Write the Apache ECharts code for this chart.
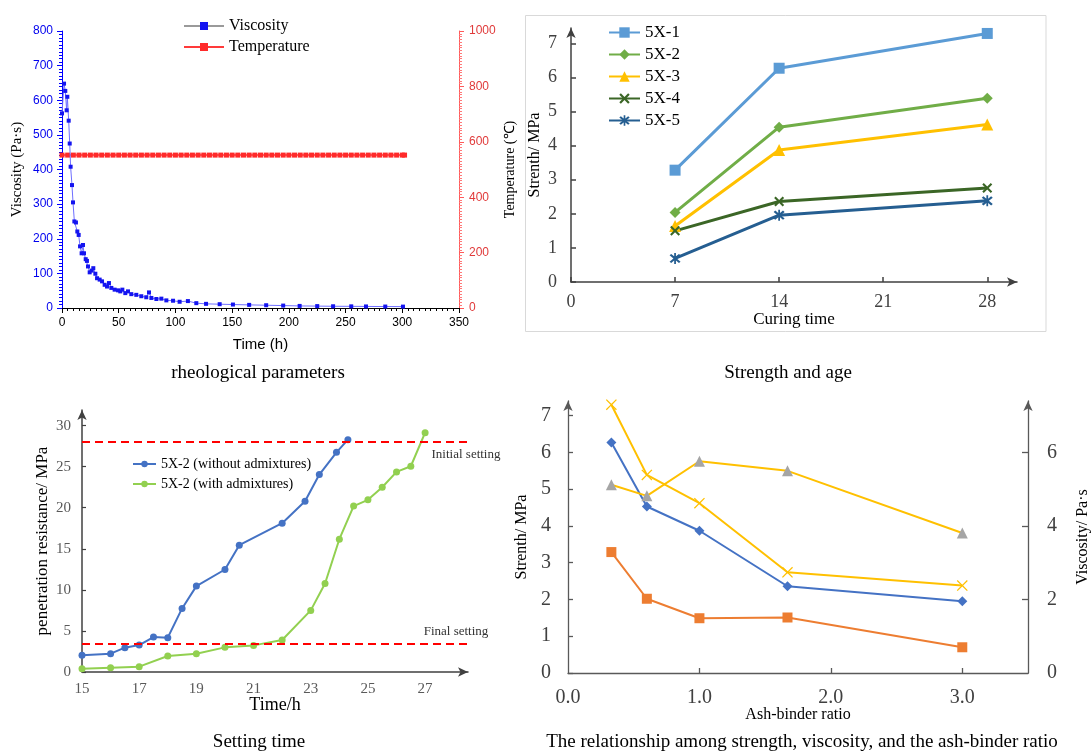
<!DOCTYPE html>
<html><head><meta charset="utf-8">
<script src="https://cdn.jsdelivr.net/npm/echarts@6/dist/echarts.min.js"></script>
<style>html,body{margin:0;padding:0;background:#fff}#c{width:1091px;height:751px}</style>
</head><body><div id="c"></div>
<script>
// ---------- Panel 1: rheological parameters ----------
const viscTime  = [0, 1.8, 2.9, 4.1, 4.7, 5.9, 6.8, 7.6, 8.8, 9.7, 10.9, 12.3, 13.5, 14.7, 15.9, 17.3, 18.5, 19.4, 20.9, 22.0, 22.9, 24.4, 26.2, 27.6, 29.4, 30.9, 33.2, 35.3, 37.6, 39.7, 41.4, 43.5, 46.4, 49.4, 51.4, 53.2, 55.8, 58.2, 61.1, 65.5, 69.9, 74.3, 76.7, 78.8, 83.2, 87.6, 92.0, 97.9, 103.7, 111.0, 118.4, 127.0, 139.0, 150.7, 165.0, 180.0, 195.0, 209.5, 225.0, 239.0, 255.0, 268.0, 285.0, 300.6];
const viscValue = [562, 648, 627, 571, 610, 541, 475, 408, 355, 305, 250, 247, 221, 211, 178, 158, 182, 158, 141, 136, 120, 103, 108, 115, 99, 86, 82, 77, 67, 62, 72, 58, 53, 51, 48, 53, 43, 48, 40, 38, 34, 31, 45, 29, 26, 27, 22, 21, 18, 20, 14, 12, 11, 10, 9, 8, 7, 6, 5.5, 5, 4.8, 4.5, 4.2, 4];
const tempTime  = [0,5,10,15,20,25,30,35,40,45,50,55,60,65,70,75,80,85,90,95,100,105,110,115,120,125,130,135,140,145,150,155,160,165,170,175,180,185,190,195,200,205,210,215,220,225,230,235,240,245,250,255,260,265,270,275,280,285,290,295,300,302];
const tempValue = [552,552,552,552,552,552,552,552,552,552,552,552,552,552,552,552,552,552,552,552,552,552,552,552,552,552,552,552,552,552,552,552,552,552,552,552,552,552,552,552,552,552,552,552,552,552,552,552,552,552,552,552,552,552,552,552,552,552,552,552,552,552];

// ---------- Panel 2: Strength and age ----------
const curingDays = [7, 14, 28];
const s5x1 = [3.28, 6.27, 7.29];
const s5x2 = [2.04, 4.54, 5.39];
const s5x3 = [1.64, 3.87, 4.62];
const s5x4 = [1.50, 2.36, 2.76];
const s5x5 = [0.69, 1.96, 2.38];
const curingTicks = [0, 7, 14, 21, 28];
const strengthTicks2 = [0, 1, 2, 3, 4, 5, 6, 7];

// ---------- Panel 3: Setting time ----------
const noAdmTime  = [15, 16, 16.5, 17, 17.5, 18, 18.5, 19, 20, 20.5, 22, 22.8, 23.3, 23.9, 24.3];
const noAdmValue = [2.03, 2.23, 2.96, 3.28, 4.26, 4.18, 7.74, 10.46, 12.48, 15.44, 18.12, 20.79, 24.04, 26.75, 28.29];
const admTime  = [15, 16, 17, 18, 19, 20, 21, 22, 23, 23.5, 24, 24.5, 25, 25.5, 26, 26.5, 27];
const admValue = [0.41, 0.53, 0.65, 1.95, 2.23, 3.0, 3.24, 3.89, 7.5, 10.78, 16.17, 20.2, 20.96, 22.5, 24.36, 25.05, 29.14];
const initialSetting = 28;
const finalSetting = 3.5;
const timeTicks3 = [15, 17, 19, 21, 23, 25, 27];
const resistTicks3 = [0, 5, 10, 15, 20, 25, 30];

// ---------- Panel 4: strength / viscosity vs ash-binder ratio ----------
const ashRatio = [0.33, 0.6, 1.0, 1.67, 3.0];
const str7d  = [3.29, 2.02, 1.49, 1.51, 0.70];
const str14d = [6.27, 4.53, 3.87, 2.36, 1.95];
const str28d = [7.30, 5.39, 4.62, 2.74, 2.38];
const viscAsh = [5.12, 4.82, 5.76, 5.50, 3.81];
const ratioLabels4 = [0, 1, 2, 3];
const ratioTicks4 = [1, 2, 3];
const strengthTicks4 = [0, 1, 2, 3, 4, 5, 6, 7];
const viscTicks4 = [0, 2, 4, 6];
const viscTickMarks4 = [2, 4, 6];

const SERIF = '"Liberation Serif", "Times New Roman", serif';
const SANS = '"Liberation Sans", Arial, sans-serif';
const pairs = (xs, ys) => xs.map((x, i) => [x, ys[i]]);

const X_THICK = 'path://M0,1.5L1.5,0L5,3.5L8.5,0L10,1.5L6.5,5L10,8.5L8.5,10L5,6.5L1.5,10L0,8.5L3.5,5Z';
const ASTER = 'path://M0,1.5L1.5,0L5,3.5L8.5,0L10,1.5L6.5,5L10,8.5L8.5,10L5,6.5L1.5,10L0,8.5L3.5,5Z M4.2,-1L5.8,-1L5.8,11L4.2,11Z';
const X_THIN = 'path://M0,0.8L0.8,0L5,4.2L9.2,0L10,0.8L5.8,5L10,9.2L9.2,10L5,5.8L0.8,10L0,9.2L4.2,5Z';

const arrowLine = (color, width) => ({show: true, onZero: false, symbol: ['none', 'arrow'], symbolSize: [7, 10], lineStyle: {color, width}});
const plainLine = (color, width) => ({show: true, onZero: false, lineStyle: {color, width}});
const nameStyle = (size, family) => ({fontFamily: family || SERIF, fontSize: size, color: '#000'});
const plainNum = v => String(v);

const chart = echarts.init(document.getElementById('c'));
chart.setOption({
  animation: false,
  backgroundColor: '#fff',
  grid: [
    {left: 62, top: 31, width: 397, height: 277, outerBoundsMode: 'none'},
    {left: 571, top: 28, width: 446, height: 254, outerBoundsMode: 'none'},
    {left: 82, top: 410, width: 386, height: 262, outerBoundsMode: 'none'},
    {left: 568, top: 401, width: 460, height: 272, outerBoundsMode: 'none'}
  ],
  legend: [
    {left: 183, top: 18, orient: 'vertical', itemWidth: 40, itemHeight: 10, itemGap: 5, padding: 0,
     data: [{name: 'Viscosity', lineStyle: {color: '#9a9a9a'}}, 'Temperature'], textStyle: {fontFamily: SERIF, fontSize: 16, color: '#000'}},
    {left: 608, top: 24, orient: 'vertical', itemWidth: 31, itemHeight: 13, itemGap: 5, padding: 0,
     data: ['5X-1', '5X-2', '5X-3', '5X-4', '5X-5'], textStyle: {fontFamily: SERIF, fontSize: 17, color: '#000'}},
    {left: 132, top: 457, orient: 'vertical', itemWidth: 23, itemHeight: 8, itemGap: 6, padding: 0,
     data: ['5X-2 (without admixtures)', '5X-2 (with admixtures)'], textStyle: {fontFamily: SERIF, fontSize: 14, color: '#000'}}
  ],
  xAxis: [
    {gridIndex: 0, type: 'value', min: 0, max: 350, interval: 50,
     axisLine: plainLine('#000', 1),
     axisTick: {show: true, inside: false, length: 5, lineStyle: {color: '#000'}},
     minorTick: {show: true, splitNumber: 10, length: 3, lineStyle: {color: '#000'}},
     axisLabel: {formatter: plainNum, fontFamily: SANS, fontSize: 12, color: '#000', margin: 9},
     splitLine: {show: false}, minorSplitLine: {show: false},
     name: 'Time (h)', nameLocation: 'middle', nameGap: 29, nameMoveOverlap: false, nameTextStyle: nameStyle(15, SANS)},
    {gridIndex: 1, type: 'value', min: 0, max: 30,
     axisLine: arrowLine('#404040', 1.5),
     axisTick: {show: true, inside: true, length: 5, customValues: curingTicks, lineStyle: {color: '#404040', width: 1.5}},
     axisLabel: {customValues: curingTicks, fontFamily: SERIF, fontSize: 18, color: '#404040', margin: 11},
     splitLine: {show: false},
     name: 'Curing time', nameLocation: 'middle', nameGap: 29, nameMoveOverlap: false, nameTextStyle: nameStyle(17)},
    {gridIndex: 2, type: 'value', min: 15, max: 28.5,
     axisLine: arrowLine('#404040', 1.5),
     axisTick: {show: false},
     axisLabel: {customValues: timeTicks3, fontFamily: SERIF, fontSize: 15, color: '#595959', margin: 10},
     splitLine: {show: false},
     name: 'Time/h', nameLocation: 'middle', nameGap: 24, nameMoveOverlap: false, nameTextStyle: nameStyle(18)},
    {gridIndex: 3, type: 'value', min: 0, max: 3.5,
     axisLine: plainLine('#595959', 1.3),
     axisTick: {show: true, inside: true, length: 5, customValues: ratioTicks4, lineStyle: {color: '#595959', width: 1.3}},
     axisLabel: {customValues: ratioLabels4, formatter: v => Number(v).toFixed(1), fontFamily: SERIF, fontSize: 20, color: '#404040', margin: 15},
     splitLine: {show: false},
     name: 'Ash-binder ratio', nameLocation: 'middle', nameGap: 34, nameMoveOverlap: false, nameTextStyle: nameStyle(16)}
  ],
  yAxis: [
    {gridIndex: 0, type: 'value', position: 'left', min: 0, max: 800, interval: 100,
     axisLine: plainLine('#0000ff', 1),
     axisTick: {show: true, inside: false, length: 5, lineStyle: {color: '#0000ff'}},
     minorTick: {show: true, splitNumber: 10, length: 3, lineStyle: {color: '#0000ff'}},
     axisLabel: {formatter: plainNum, fontFamily: SANS, fontSize: 12, color: '#0000ee', margin: 9},
     splitLine: {show: false}, minorSplitLine: {show: false},
     name: 'Viscosity (Pa·s)', nameLocation: 'middle', nameRotate: 90, nameGap: 37, nameMoveOverlap: false, nameTextStyle: nameStyle(15)},
    {gridIndex: 0, type: 'value', position: 'right', min: 0, max: 1000, interval: 200,
     axisLine: plainLine('#ff5a5a', 1),
     axisTick: {show: true, inside: false, length: 5, lineStyle: {color: '#ff5a5a'}},
     minorTick: {show: true, splitNumber: 20, length: 3, lineStyle: {color: '#ff7a7a'}},
     axisLabel: {formatter: plainNum, fontFamily: SANS, fontSize: 12, color: '#e03a3a', margin: 10},
     splitLine: {show: false}, minorSplitLine: {show: false},
     name: 'Temperature (℃)', nameLocation: 'middle', nameRotate: 90, nameGap: 44, nameMoveOverlap: false, nameTextStyle: nameStyle(14)},
    {gridIndex: 1, type: 'value', min: 0, max: 7.45,
     axisLine: arrowLine('#404040', 1.5),
     axisTick: {show: true, inside: true, length: 5, customValues: strengthTicks2, lineStyle: {color: '#404040', width: 1.5}},
     axisLabel: {customValues: strengthTicks2, fontFamily: SERIF, fontSize: 18, color: '#404040', margin: 14},
     splitLine: {show: false},
     name: 'Strenth/ MPa', nameLocation: 'middle', nameRotate: 90, nameGap: 28, nameMoveOverlap: false, nameTextStyle: nameStyle(16)},
    {gridIndex: 2, type: 'value', min: 0, max: 31.9,
     axisLine: arrowLine('#404040', 1.5),
     axisTick: {show: true, inside: true, length: 4, customValues: resistTicks3, lineStyle: {color: '#404040', width: 1.2}},
     axisLabel: {customValues: resistTicks3, fontFamily: SERIF, fontSize: 15, color: '#595959', margin: 11},
     splitLine: {show: false},
     name: 'penetration resistance/ MPa', nameLocation: 'middle', nameRotate: 90, nameGap: 31, nameMoveOverlap: false, nameTextStyle: nameStyle(17)},
    {gridIndex: 3, type: 'value', position: 'left', min: 0, max: 7.4,
     axisLine: arrowLine('#595959', 1.3),
     axisTick: {show: true, inside: true, length: 5, customValues: strengthTicks4, lineStyle: {color: '#595959', width: 1.3}},
     axisLabel: {customValues: strengthTicks4, fontFamily: SERIF, fontSize: 20, color: '#404040', margin: 17},
     splitLine: {show: false},
     name: 'Strenth/ MPa', nameLocation: 'middle', nameRotate: 90, nameGap: 38, nameMoveOverlap: false, nameTextStyle: nameStyle(16)},
    {gridIndex: 3, type: 'value', position: 'right', min: 0, max: 7.4,
     axisLine: arrowLine('#595959', 1.3),
     axisTick: {show: true, inside: true, length: 6, customValues: viscTickMarks4, lineStyle: {color: '#595959', width: 1.3}},
     axisLabel: {customValues: viscTicks4, fontFamily: SERIF, fontSize: 20, color: '#404040', margin: 19},
     splitLine: {show: false},
     name: 'Viscosity/ Pa·s', nameLocation: 'middle', nameRotate: 90, nameGap: 47, nameMoveOverlap: false, nameTextStyle: nameStyle(16)}
  ],
  series: [
    {name: 'Viscosity', type: 'line', xAxisIndex: 0, yAxisIndex: 0, data: pairs(viscTime, viscValue),
     symbol: 'rect', symbolSize: 4, lineStyle: {color: '#6f6fff', width: 1}, itemStyle: {color: '#1414f0'}, z: 4},
    {name: 'Temperature', type: 'line', xAxisIndex: 0, yAxisIndex: 1, data: pairs(tempTime, tempValue),
     symbol: 'rect', symbolSize: 5, lineStyle: {color: '#ff3a3a', width: 1.5}, itemStyle: {color: '#ff2a2a'}, z: 3},

    {name: '5X-1', type: 'line', xAxisIndex: 1, yAxisIndex: 2, data: pairs(curingDays, s5x1),
     symbol: 'rect', symbolSize: 11, lineStyle: {color: '#5B9BD5', width: 3}, itemStyle: {color: '#5B9BD5'}},
    {name: '5X-2', type: 'line', xAxisIndex: 1, yAxisIndex: 2, data: pairs(curingDays, s5x2),
     symbol: 'diamond', symbolSize: 11, lineStyle: {color: '#70AD47', width: 3}, itemStyle: {color: '#70AD47'}},
    {name: '5X-3', type: 'line', xAxisIndex: 1, yAxisIndex: 2, data: pairs(curingDays, s5x3),
     symbol: 'triangle', symbolSize: 12, lineStyle: {color: '#FFC000', width: 3}, itemStyle: {color: '#FFC000'}},
    {name: '5X-4', type: 'line', xAxisIndex: 1, yAxisIndex: 2, data: pairs(curingDays, s5x4),
     symbol: X_THICK, symbolSize: 10, lineStyle: {color: '#3b6626', width: 3}, itemStyle: {color: '#3b6626'}},
    {name: '5X-5', type: 'line', xAxisIndex: 1, yAxisIndex: 2, data: pairs(curingDays, s5x5),
     symbol: ASTER, symbolSize: 11, lineStyle: {color: '#255E91', width: 3}, itemStyle: {color: '#255E91'}},

    {name: '5X-2 (without admixtures)', type: 'line', xAxisIndex: 2, yAxisIndex: 3, data: pairs(noAdmTime, noAdmValue),
     symbol: 'circle', symbolSize: 7, lineStyle: {color: '#4472C4', width: 2}, itemStyle: {color: '#4472C4'},
     markLine: {silent: true, symbol: ['none', 'none'], label: {show: false},
       lineStyle: {color: '#ff0000', width: 2, type: [8, 5]},
       data: [{yAxis: initialSetting}, {yAxis: finalSetting}]}},
    {name: '5X-2 (with admixtures)', type: 'line', xAxisIndex: 2, yAxisIndex: 3, data: pairs(admTime, admValue),
     symbol: 'circle', symbolSize: 7, lineStyle: {color: '#92D050', width: 2}, itemStyle: {color: '#92D050'}},

    {name: 'Strength 7 d', type: 'line', xAxisIndex: 3, yAxisIndex: 4, data: pairs(ashRatio, str7d),
     symbol: 'rect', symbolSize: 10, lineStyle: {color: '#ED7D31', width: 2}, itemStyle: {color: '#ED7D31'}},
    {name: 'Strength 14 d', type: 'line', xAxisIndex: 3, yAxisIndex: 4, data: pairs(ashRatio, str14d),
     symbol: 'diamond', symbolSize: 10, lineStyle: {color: '#4472C4', width: 2}, itemStyle: {color: '#4472C4'}},
    {name: 'Strength 28 d', type: 'line', xAxisIndex: 3, yAxisIndex: 4, data: pairs(ashRatio, str28d),
     symbol: X_THIN, symbolSize: 11, lineStyle: {color: '#FFC000', width: 2}, itemStyle: {color: '#FFC000'}},
    {name: 'Viscosity vs ratio', type: 'line', xAxisIndex: 3, yAxisIndex: 5, data: pairs(ashRatio, viscAsh),
     symbol: 'triangle', symbolSize: 11, lineStyle: {color: '#FFC000', width: 2}, itemStyle: {color: '#A5A5A5'}}
  ],
  graphic: [
    {type: 'rect', silent: true, z: -10, shape: {x: 525.5, y: 15.5, width: 520.5, height: 316},
     style: {fill: 'none', stroke: '#d9d9d9', lineWidth: 1}},
    {type: 'text', silent: true, x: 466, y: 455,
     style: {text: 'Initial setting', font: '13px "Liberation Serif"', fill: '#333', align: 'center', verticalAlign: 'middle', textAlign: 'center', textVerticalAlign: 'middle'}},
    {type: 'text', silent: true, x: 456, y: 632,
     style: {text: 'Final setting', font: '13px "Liberation Serif"', fill: '#333', align: 'center', verticalAlign: 'middle', textAlign: 'center', textVerticalAlign: 'middle'}},
    {type: 'text', silent: true, x: 258, y: 373,
     style: {text: 'rheological parameters', font: '19px "Liberation Serif"', fill: '#000', align: 'center', verticalAlign: 'middle', textAlign: 'center', textVerticalAlign: 'middle'}},
    {type: 'text', silent: true, x: 788, y: 373,
     style: {text: 'Strength and age', font: '19px "Liberation Serif"', fill: '#000', align: 'center', verticalAlign: 'middle', textAlign: 'center', textVerticalAlign: 'middle'}},
    {type: 'text', silent: true, x: 259, y: 742,
     style: {text: 'Setting time', font: '19px "Liberation Serif"', fill: '#000', align: 'center', verticalAlign: 'middle', textAlign: 'center', textVerticalAlign: 'middle'}},
    {type: 'text', silent: true, x: 802, y: 742,
     style: {text: 'The relationship among strength, viscosity, and the ash-binder ratio', font: '19px "Liberation Serif"', fill: '#000', align: 'center', verticalAlign: 'middle', textAlign: 'center', textVerticalAlign: 'middle'}}
  ]
});
</script></body></html>
